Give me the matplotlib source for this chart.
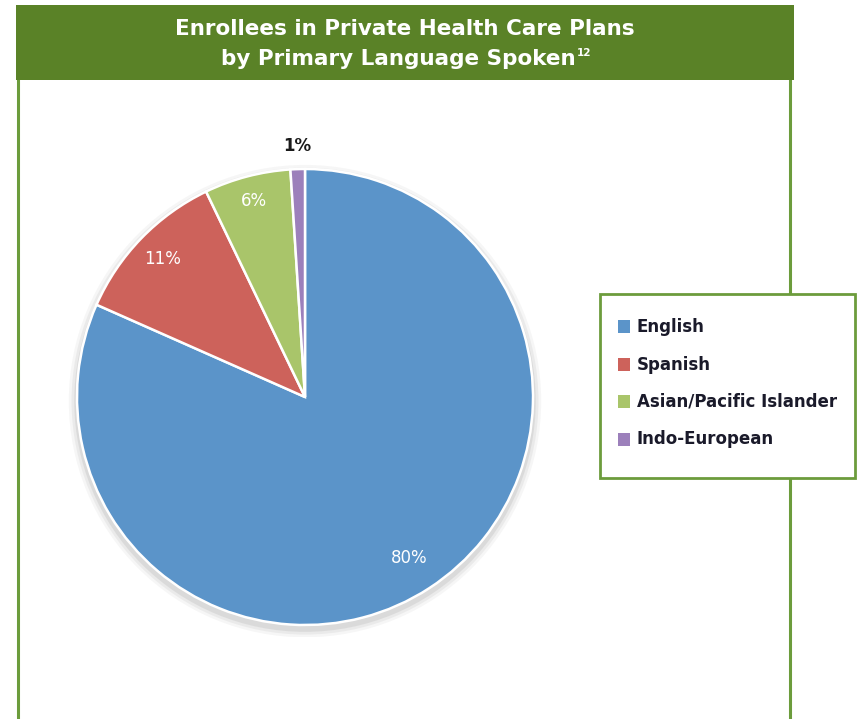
import numpy as np
import matplotlib
matplotlib.use('Agg')
import matplotlib.pyplot as plt
from matplotlib.patches import Rectangle, Circle

# enrollment share by primary language (percent)
languages = ['English', 'Spanish', 'Asian/Pacific Islander', 'Indo-European']
shares = [80, 11, 6, 1]
colors = ['#5b94c9', '#cd625b', '#a9c56a', '#9c80bb']
label_colors = ['white', 'white', 'white', '#1a1a1a']
label_dist = [0.84, 0.87, 0.89, 1.10]

title_lines = ['Enrollees in Private Health Care Plans', 'by Primary Language Spoken']
footnote = '12'

W, H = 858, 719
fig = plt.figure(figsize=(W / 100, H / 100), dpi=100)
fig.patch.set_facecolor('white')
plt.rcParams['font.family'] = ['DejaVu Sans']

# frame, header bar and legend drawn in pixel space
bg = fig.add_axes([0, 0, 1, 1])
bg.set_xlim(0, W)
bg.set_ylim(H, 0)
bg.axis('off')
frame_green = '#6c9c3c'
bg.plot([18, 18], [78, H + 5], color=frame_green, lw=2.2, zorder=1)
bg.plot([790, 790], [78, H + 5], color=frame_green, lw=2.2, zorder=1)
bg.add_patch(Rectangle((16, 5), 778, 75, facecolor='#5a8227', edgecolor='none', zorder=2))
bg.text(405, 29, title_lines[0], color='white', fontsize=15.5, fontweight='bold',
        ha='center', va='center', zorder=3)
t2 = bg.text(398, 59, title_lines[1], color='white', fontsize=15.5, fontweight='bold',
             ha='center', va='center', zorder=3)

# superscript footnote right after the second title line
fig.canvas.draw()
ext = t2.get_window_extent(renderer=fig.canvas.get_renderer())
sx = ext.x1 * W / fig.bbox.width
bg.text(sx + 1, 53, footnote, color='white', fontsize=7.5, fontweight='bold',
        ha='left', va='center', zorder=3)

bg.add_patch(Rectangle((600, 294), 255, 184, facecolor='white', edgecolor=frame_green,
                       lw=2, zorder=4))
for i, (name, c) in enumerate(zip(languages, colors)):
    y = 327 + i * 37.5
    bg.add_patch(Rectangle((618, y - 7), 12, 13, facecolor=c, edgecolor='none', zorder=5))
    bg.text(637, y, name, fontsize=12, fontweight='bold', color='#1a1a2a',
            ha='left', va='center', zorder=5)

# pie axes: center (305, 397) px, radius 228 px
cx, cy, half = 305, 397, 240
ax = fig.add_axes([(cx - half) / W, (H - cy - half) / H, 2 * half / W, 2 * half / H])
ax.axis('off')

# soft shadow under the pie
for k, a in enumerate([0.05, 0.07, 0.10]):
    ax.add_patch(Circle((0, -0.018), 1.0 + 0.012 * (3 - k), facecolor='#555555',
                        edgecolor='none', alpha=a, zorder=0))

wedges, _ = ax.pie(shares, colors=colors, startangle=90, counterclock=False, radius=1.0,
                   wedgeprops=dict(edgecolor='white', linewidth=1.8))
for w in wedges:
    w.set_zorder(2)

for w, v, tc, d in zip(wedges, shares, label_colors, label_dist):
    mid = np.deg2rad((w.theta1 + w.theta2) / 2)
    ax.text(d * np.cos(mid), d * np.sin(mid), f'{v}%', color=tc, fontsize=12,
            ha='center', va='center', zorder=3,
            fontweight='bold' if tc != 'white' else 'normal')

lim = half / 228
ax.set_xlim(-lim, lim)
ax.set_ylim(-lim, lim)
ax.set_aspect('equal')

fig.savefig('out.png', dpi=100)
